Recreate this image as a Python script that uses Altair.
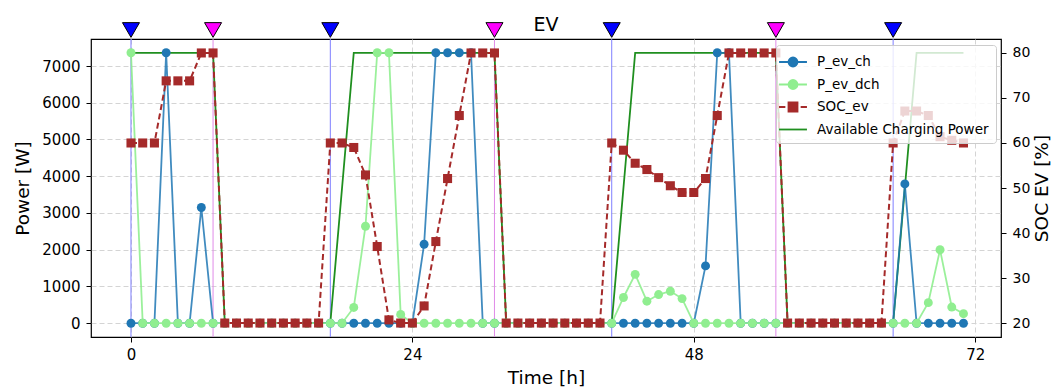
import altair as alt
import pandas as pd

hours = list(range(72))

p_ev_ch = [0, 0, 0, 7360, 0, 0, 3150, 0,
           0, 0, 0, 0, 0, 0, 0, 0, 0,
           0, 0, 0, 0, 0, 0, 0, 0,
           2150, 7360, 7360, 7360, 7360, 0, 0,
           0, 0, 0, 0, 0, 0, 0, 0, 0,
           0, 0, 0, 0, 0, 0, 0, 0,
           1560, 7360, 7360, 0, 0, 0, 0,
           0, 0, 0, 0, 0, 0, 0, 0, 0,
           0, 3790, 0, 0, 0, 0, 0]

p_ev_dch = [7360, 0, 0, 0, 0, 0, 0, 0,
            0, 0, 0, 0, 0, 0, 0, 0, 0,
            0, 0, 430, 2640, 7360, 7360, 240, 0,
            0, 0, 0, 0, 0, 0, 0,
            0, 0, 0, 0, 0, 0, 0, 0, 0,
            0, 700, 1330, 600, 780, 870, 670, 0,
            0, 0, 0, 0, 0, 0, 0,
            0, 0, 0, 0, 0, 0, 0, 0, 0,
            0, 0, 0, 560, 2000, 440, 260]

soc_ev = [60, 60, 60, 73.8, 73.8, 73.8, 80, 80,
          20, 20, 20, 20, 20, 20, 20, 20, 20,
          60, 60, 59, 52.9, 37, 20.7, 20, 20,
          23.8, 38.1, 52.1, 66.1, 80, 80, 80,
          20, 20, 20, 20, 20, 20, 20, 20, 20,
          60, 58.4, 55.5, 54.1, 52.3, 50.5, 49, 49,
          52.1, 66.1, 80, 80, 80, 80, 80,
          20, 20, 20, 20, 20, 20, 20, 20, 20,
          60, 67.1, 67.1, 66.1, 61.4, 60.6, 60]

avail_power = [7360, 7360, 7360, 7360, 7360, 7360, 7360, 7360,
               0, 0, 0, 0, 0, 0, 0, 0, 0,
               0, 3680, 7360, 7360, 7360, 7360, 7360, 7360,
               7360, 7360, 7360, 7360, 7360, 7360, 7360,
               0, 0, 0, 0, 0, 0, 0, 0, 0,
               0, 3680, 7360, 7360, 7360, 7360, 7360, 7360,
               7360, 7360, 7360, 7360, 7360, 7360, 7360,
               0, 0, 0, 0, 0, 0, 0, 0, 0,
               0, 3680, 7360, 7360, 7360, 7360, 7360]

arrivals = [0, 17, 41, 65]
departures = [7, 31, 55]

series_names = ["P_ev_ch", "P_ev_dch", "SOC_ev", "Available Charging Power"]
series_colors = ["#1f77b4", "#90ee90", "#a52a2a", "#1f8f1f"]
legend_paths = [
    "M-1.55,0 L1.55,0 M0.5,0 A0.5,0.5 0 1,1 -0.5,0 A0.5,0.5 0 1,1 0.5,0 Z",
    "M-1.55,0 L1.55,0 M0.5,0 A0.5,0.5 0 1,1 -0.5,0 A0.5,0.5 0 1,1 0.5,0 Z",
    "M-1.55,0 L-0.85,0 M0.85,0 L1.55,0 M-0.5,-0.5 L0.5,-0.5 L0.5,0.5 L-0.5,0.5 Z",
    "M-1.55,0 L1.55,0",
]

df = pd.DataFrame({"h": hours, "ch": p_ev_ch, "dch": p_ev_dch,
                   "soc": soc_ev, "avail": avail_power})
arr_df = pd.DataFrame({"h": arrivals})
dep_df = pd.DataFrame({"h": departures})
leg_df = pd.DataFrame({"series": series_names})

FONT = "DejaVu Sans"

x_enc = alt.X("h:Q",
              scale=alt.Scale(domain=[-3.41, 74.2], nice=False, zero=False),
              axis=alt.Axis(values=[0, 24, 48, 72], title="Time [h]",
                            grid=True, gridDash=[5, 3], gridColor="#d4d4d4",
                            labelFontSize=15, titleFontSize=18.5,
                            tickSize=5, labelPadding=5, titlePadding=6))

left_scale = alt.Scale(domain=[-375, 7735], nice=False, zero=False)
left_axis = alt.Axis(values=[0, 1000, 2000, 3000, 4000, 5000, 6000, 7000],
                     format="d", title="Power [W]", orient="left",
                     grid=True, gridDash=[5, 3], gridColor="#d4d4d4",
                     labelFontSize=15, titleFontSize=18.5,
                     tickSize=5, labelPadding=6, titlePadding=9)


def ly(field):
    return alt.Y(f"{field}:Q", scale=left_scale, axis=left_axis)


base = alt.Chart(df)

arr_rules = alt.Chart(arr_df).mark_rule(color="#7f7fff", strokeWidth=1).encode(x=x_enc)
dep_rules = alt.Chart(dep_df).mark_rule(color="#e08ae8", strokeWidth=1).encode(x=x_enc)

avail_line = base.mark_line(color=series_colors[3], strokeWidth=1.8).encode(x=x_enc, y=ly("avail"))
ch_line = base.mark_line(color=series_colors[0], strokeWidth=1.8, opacity=0.85).encode(x=x_enc, y=ly("ch"))
ch_pts = base.mark_circle(color=series_colors[0], size=80, opacity=1).encode(x=x_enc, y=ly("ch"))
dch_line = base.mark_line(color=series_colors[1], strokeWidth=1.8, opacity=0.9).encode(x=x_enc, y=ly("dch"))
dch_pts = base.mark_circle(color=series_colors[1], size=80, opacity=1).encode(x=x_enc, y=ly("dch"))

left = alt.layer(arr_rules, dep_rules, avail_line, ch_line, ch_pts, dch_line, dch_pts)

right_scale = alt.Scale(domain=[16.9, 83.1], nice=False, zero=False)
right_axis = alt.Axis(values=[20, 30, 40, 50, 60, 70, 80], title="SOC EV [%]",
                      orient="right", grid=False, labelFontSize=14,
                      titleFontSize=18.5, titleAngle=270, titleBaseline="top",
                      tickSize=5, labelPadding=6, titlePadding=3)
soc_y = alt.Y("soc:Q", scale=right_scale, axis=right_axis)
soc_line = base.mark_line(color=series_colors[2], strokeWidth=2, strokeDash=[6, 3.5]).encode(x=x_enc, y=soc_y)
soc_pts = base.mark_square(color=series_colors[2], size=82, opacity=1).encode(x=x_enc, y=soc_y)
right = alt.layer(soc_line, soc_pts)

arr_tri = alt.Chart(arr_df).mark_point(shape="triangle-down", filled=True, fill="#0000ff",
                                       stroke="black", strokeWidth=1, size=290, opacity=1
                                       ).encode(x=x_enc, y=alt.value(-9))
dep_tri = alt.Chart(dep_df).mark_point(shape="triangle-down", filled=True, fill="#ff00ff",
                                       stroke="black", strokeWidth=1, size=290, opacity=1
                                       ).encode(x=x_enc, y=alt.value(-9))

leg_common = dict(title=None, orient="none", legendX=685, legendY=6)
legend_layer = alt.Chart(leg_df).mark_point(opacity=1, strokeWidth=1.8, size=0).encode(
    x=alt.value(800), y=alt.value(60),
    shape=alt.Shape("series:N", scale=alt.Scale(domain=series_names, range=legend_paths),
                    legend=alt.Legend(**leg_common)),
    fill=alt.Fill("series:N", scale=alt.Scale(domain=series_names, range=series_colors),
                  legend=alt.Legend(**leg_common)),
    stroke=alt.Stroke("series:N", scale=alt.Scale(domain=series_names, range=series_colors),
                      legend=alt.Legend(**leg_common)),
)

chart = alt.layer(left, right, arr_tri, dep_tri, legend_layer).resolve_scale(
    y="independent"
).properties(
    width=910, height=298,
    title=alt.TitleParams("EV", fontSize=19, font=FONT, fontWeight="normal",
                          anchor="middle", frame="group", offset=0, dy=14, color="black"),
    autosize=alt.AutoSizeParams(type="none"),
    padding={"left": 91, "top": 39, "right": 51, "bottom": 50},
).configure_view(
    stroke="black", strokeWidth=1.2
).configure_axis(
    domain=False, tickColor="black", tickWidth=1, labelColor="black",
    titleColor="black", labelFont=FONT, titleFont=FONT, titleFontWeight="normal"
).configure_legend(
    padding=7, rowPadding=3.5, symbolSize=324, symbolStrokeWidth=1.8,
    labelFont=FONT, labelFontSize=13.5, labelColor="black", labelOffset=14,
    fillColor="rgba(255,255,255,0.8)", strokeColor="#cccccc", cornerRadius=3,
    labelLimit=400
)

chart.save("out.html", embed_options={"renderer": "svg", "actions": False})
